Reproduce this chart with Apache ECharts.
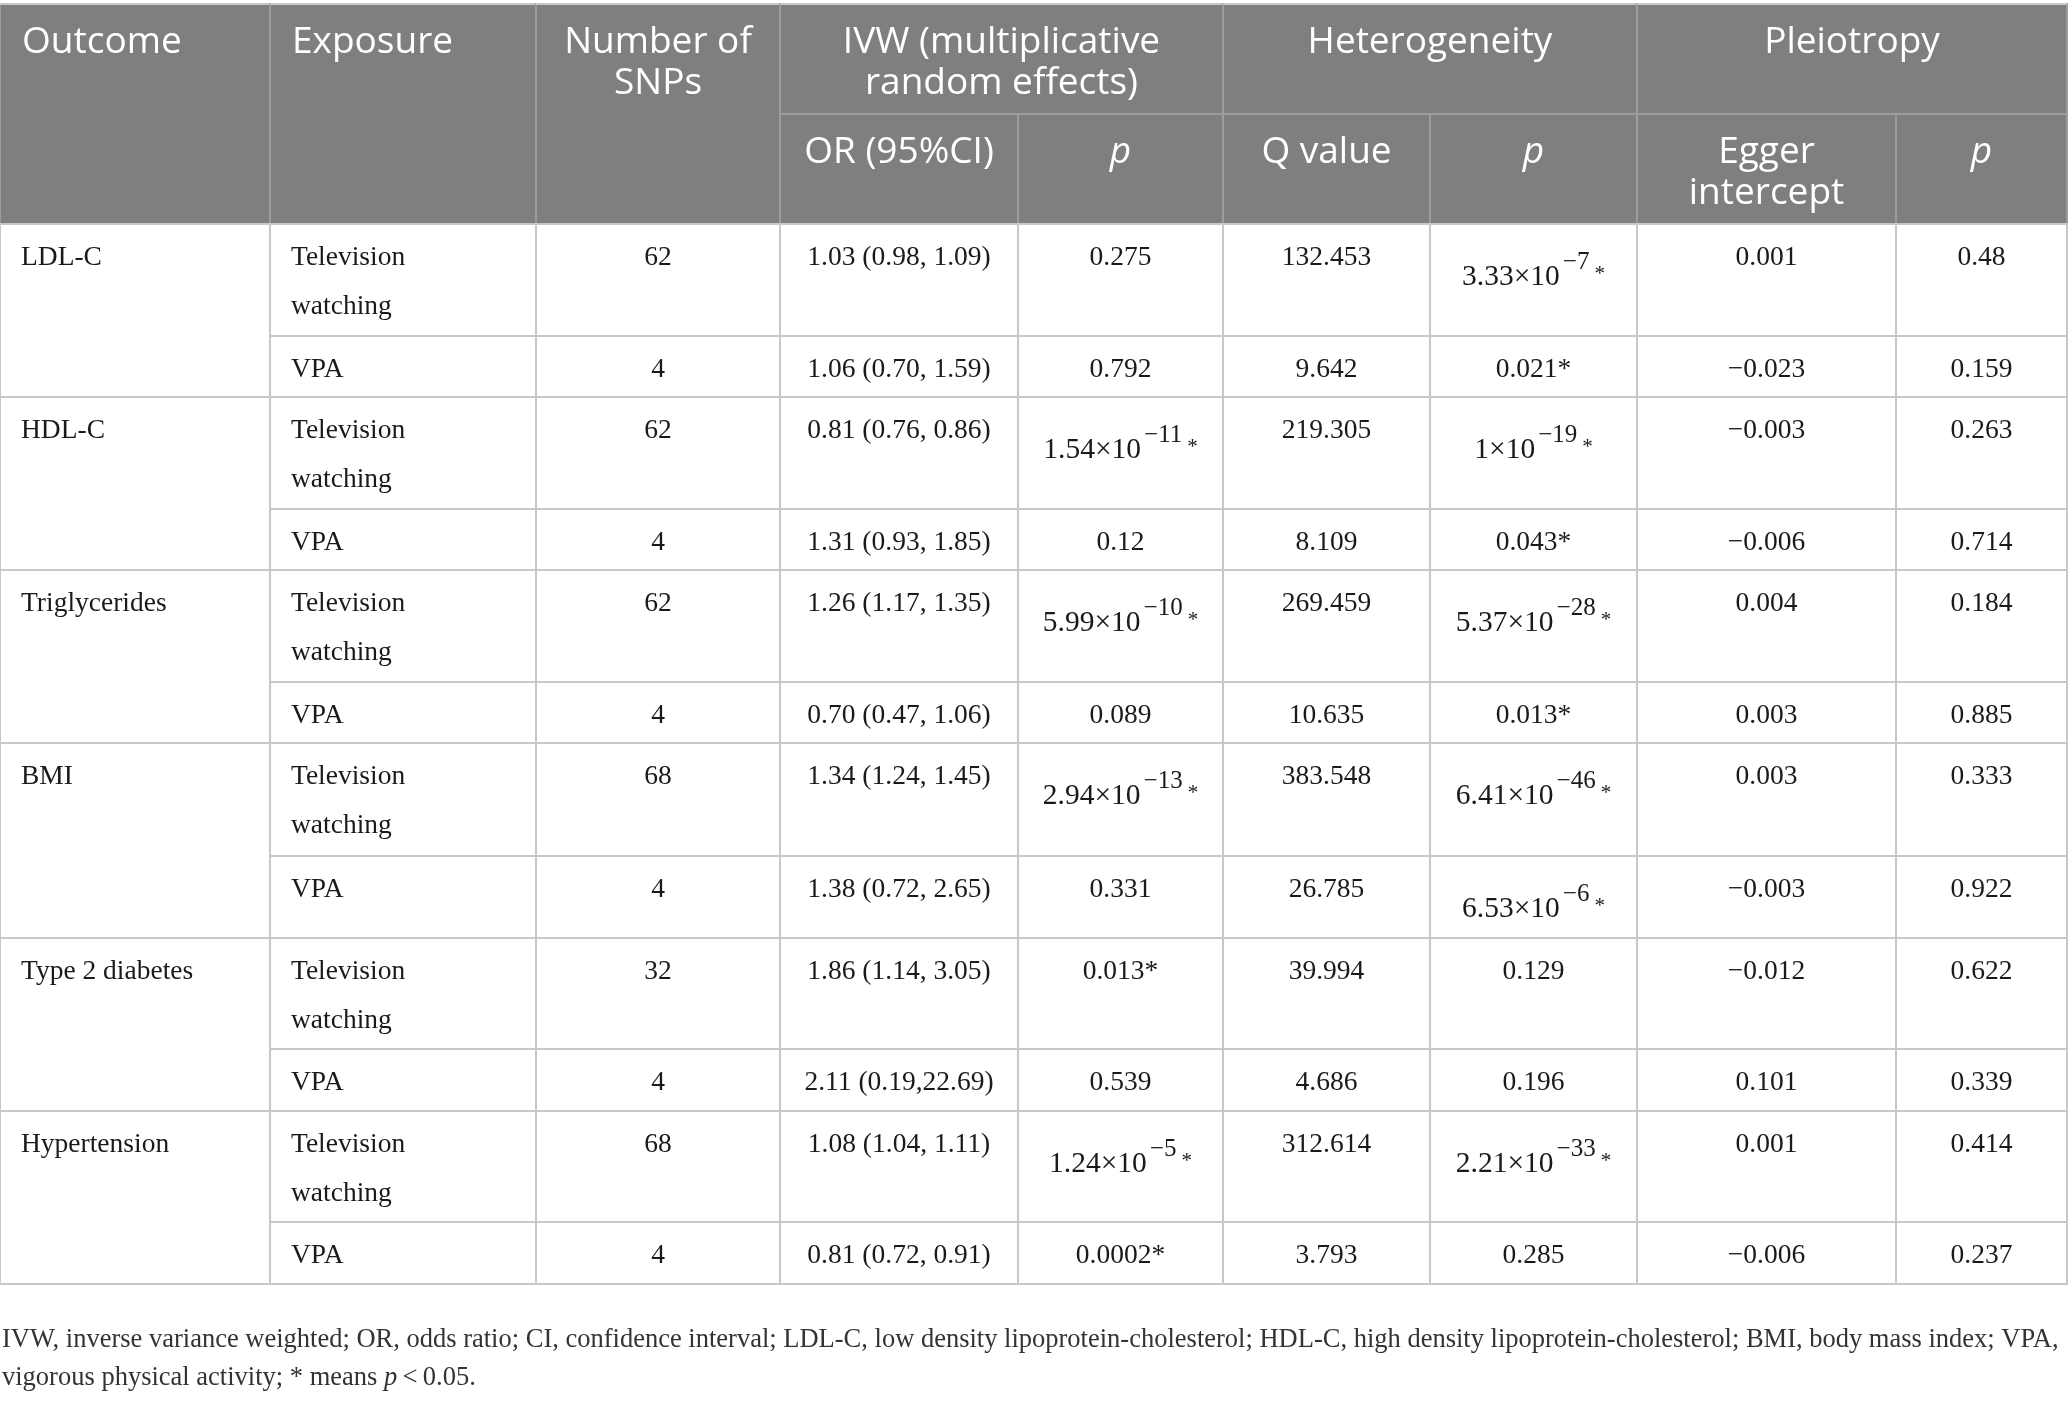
<!DOCTYPE html>
<html>
<head>
<meta charset="utf-8">
<title>Mendelian randomization results</title>
<script src="https://cdn.jsdelivr.net/npm/echarts@6/dist/echarts.min.js"></script>
<style>
  html, body { margin: 0; padding: 0; background: #fff; }
  #main { width: 2068px; height: 1401px; }
</style>
</head>
<body>
<div id="main"></div>
<script>
'use strict';

// table contents
const outcomes = ['LDL-C', 'HDL-C', 'Triglycerides', 'BMI', 'Type 2 diabetes', 'Hypertension'];
const exposures = ['Television\nwatching', 'VPA'];
const snpCounts = ['62', '4', '62', '4', '62', '4', '68', '4', '32', '4', '68', '4'];
const orCI = [
  '1.03 (0.98, 1.09)', '1.06 (0.70, 1.59)',
  '0.81 (0.76, 0.86)', '1.31 (0.93, 1.85)',
  '1.26 (1.17, 1.35)', '0.70 (0.47, 1.06)',
  '1.34 (1.24, 1.45)', '1.38 (0.72, 2.65)',
  '1.86 (1.14, 3.05)', '2.11 (0.19,22.69)',
  '1.08 (1.04, 1.11)', '0.81 (0.72, 0.91)'
];
const pIvw = ['0.275', '0.792', '1.54×10^−11*', '0.12', '5.99×10^−10*', '0.089',
  '2.94×10^−13*', '0.331', '0.013*', '0.539', '1.24×10^−5*', '0.0002*'];
const qValues = ['132.453', '9.642', '219.305', '8.109', '269.459', '10.635',
  '383.548', '26.785', '39.994', '4.686', '312.614', '3.793'];
const pHet = ['3.33×10^−7*', '0.021*', '1×10^−19*', '0.043*', '5.37×10^−28*', '0.013*',
  '6.41×10^−46*', '6.53×10^−6*', '0.129', '0.196', '2.21×10^−33*', '0.285'];
const eggerIntercepts = ['0.001', '−0.023', '−0.003', '−0.006', '0.004', '0.003',
  '0.003', '−0.003', '−0.012', '0.101', '0.001', '−0.006'];
const pPleio = ['0.48', '0.159', '0.263', '0.714', '0.184', '0.885',
  '0.333', '0.922', '0.622', '0.339', '0.414', '0.237'];

const headerTop = ['Outcome', 'Exposure', 'Number of\nSNPs', 'IVW (multiplicative\nrandom effects)', 'Heterogeneity', 'Pleiotropy'];
const headerSub = ['OR (95%CI)', 'p', 'Q value', 'p', 'Egger\nintercept', 'p'];

const footLine1 = 'IVW, inverse variance weighted; OR, odds ratio; CI, confidence interval; LDL-C, low density lipoprotein-cholesterol; HDL-C, high density lipoprotein-cholesterol; BMI, body mass index; VPA,';
const footLine2 = 'vigorous physical activity; * means ';

// layout
const W = 2068, H = 1401;
const colEdges = [0, 270, 536, 780, 1018, 1223, 1430, 1637, 1896, 2067];
const rowEdges = [224, 336, 397, 509, 570, 682, 743, 856, 938, 1049, 1111, 1222, 1284];
const headTop = 4, headMid = 114, headBottom = 224;

const SERIF = '"Liberation Serif", "Times New Roman", serif';
const SANS = '"Open Sans", "Noto Sans", sans-serif';
const INK = '#1a1a1a';
const GRID = '#c8c8c8';
const HEAD_BG = '#7f807e';
const HEAD_LINE = '#9d9e9c';

// header cells: columns c0..c1, rows y0..y1
const headerCells = [
  { c0: 0, c1: 1, y0: headTop, y1: headBottom, text: headerTop[0], align: 'left' },
  { c0: 1, c1: 2, y0: headTop, y1: headBottom, text: headerTop[1], align: 'left' },
  { c0: 2, c1: 3, y0: headTop, y1: headBottom, text: headerTop[2], align: 'center' },
  { c0: 3, c1: 5, y0: headTop, y1: headMid, text: headerTop[3], align: 'center' },
  { c0: 5, c1: 7, y0: headTop, y1: headMid, text: headerTop[4], align: 'center' },
  { c0: 7, c1: 9, y0: headTop, y1: headMid, text: headerTop[5], align: 'center' }
];
headerSub.forEach((t, i) => {
  headerCells.push({ c0: 3 + i, c1: 4 + i, y0: headMid, y1: headBottom, text: t, align: 'center', italic: t === 'p' });
});

// body cells
const bodyCells = [];
outcomes.forEach((o, i) => {
  bodyCells.push({ c: 0, r0: 2 * i, r1: 2 * i + 2, text: o, align: 'left' });
});
const bodyColumns = [null, null, snpCounts, orCI, pIvw, qValues, pHet, eggerIntercepts, pPleio];
for (let r = 0; r < snpCounts.length; r++) {
  bodyCells.push({ c: 1, r0: r, r1: r + 1, text: exposures[r % 2], align: 'left' });
  for (let c = 2; c < bodyColumns.length; c++) {
    bodyCells.push({ c: c, r0: r, r1: r + 1, text: bodyColumns[c][r], align: 'center' });
  }
}

const sciRich = {
  m: { fontFamily: SERIF, fontSize: 29.5, fill: INK, verticalAlign: 'middle' },
  e: { fontFamily: SERIF, fontSize: 25, fill: INK, verticalAlign: 'middle', padding: [0, 0, 30, 3] },
  s: { fontFamily: SERIF, fontSize: 21, fill: INK, verticalAlign: 'middle', padding: [0, 0, 6, 5] }
};

function headerItem(params, api) {
  const cell = headerCells[params.dataIndex];
  const a = api.coord([api.value(0), api.value(1)]);
  const b = api.coord([api.value(2), api.value(3)]);
  const children = [{
    type: 'rect',
    shape: { x: a[0], y: a[1], width: b[0] - a[0], height: b[1] - a[1] },
    style: { fill: HEAD_BG, stroke: HEAD_LINE, lineWidth: 2 }
  }];
  if (cell.y0 === headTop) {
    children.push({
      type: 'line',
      shape: { x1: a[0], y1: a[1], x2: b[0], y2: a[1] },
      style: { stroke: GRID, lineWidth: 2 }
    });
  }
  children.push({
    type: 'text',
    x: cell.align === 'left' ? a[0] + 22 : (a[0] + b[0]) / 2,
    y: a[1] + 18,
    style: {
      text: cell.text,
      fontFamily: SANS,
      fontSize: 37,
      fontStyle: cell.italic ? 'italic' : 'normal',
      lineHeight: 41,
      fill: '#ffffff',
      align: cell.align,
      verticalAlign: 'top'
    }
  });
  return { type: 'group', children: children };
}

function bodyItem(params, api) {
  const cell = bodyCells[params.dataIndex];
  const a = api.coord([api.value(0), api.value(1)]);
  const b = api.coord([api.value(2), api.value(3)]);
  const rect = {
    type: 'rect',
    shape: { x: a[0], y: a[1], width: b[0] - a[0], height: b[1] - a[1] },
    style: { fill: null, stroke: GRID, lineWidth: 2 }
  };
  const tx = cell.align === 'left' ? a[0] + 21 : (a[0] + b[0]) / 2;
  // values like 3.33×10^−7* get a raised exponent and a small star
  const sci = cell.text.match(/^(.+)×10\^(.+?)(\*?)$/);
  let label;
  if (sci) {
    label = {
      type: 'text', x: tx, y: a[1] + 53,
      style: {
        text: '{m|' + sci[1] + '×10}{e|' + sci[2] + '}' + (sci[3] ? '{s|*}' : ''),
        rich: sciRich,
        align: 'center',
        verticalAlign: 'middle'
      }
    };
  } else {
    label = {
      type: 'text', x: tx, y: a[1] + 9.5,
      style: {
        text: cell.text,
        fontFamily: SERIF,
        fontSize: 27.5,
        lineHeight: 49,
        fill: INK,
        align: cell.align,
        verticalAlign: 'top'
      }
    };
  }
  return { type: 'group', children: [rect, label] };
}

const chart = echarts.init(document.getElementById('main'));
chart.setOption({
  animation: false,
  backgroundColor: '#ffffff',
  grid: { left: 0, right: 0, top: 0, bottom: 0 },
  xAxis: { type: 'value', min: 0, max: W, show: false },
  yAxis: { type: 'value', min: 0, max: H, inverse: true, show: false },
  graphic: [{
    type: 'text',
    left: 2,
    top: 1321,
    style: {
      text: footLine1 + '\n' + footLine2 + '{i|p}\u2009<\u20090.05.',
      fontFamily: SERIF,
      fontSize: 26.5,
      lineHeight: 38,
      fill: '#333333',
      rich: {
        i: { fontFamily: SERIF, fontSize: 26.5, fontStyle: 'italic', fill: '#333333' }
      }
    }
  }],
  series: [
    {
      type: 'custom',
      name: 'header',
      renderItem: headerItem,
      data: headerCells.map(h => [colEdges[h.c0], h.y0, colEdges[h.c1], h.y1])
    },
    {
      type: 'custom',
      name: 'body',
      renderItem: bodyItem,
      data: bodyCells.map(b => [colEdges[b.c], rowEdges[b.r0], colEdges[b.c + 1], rowEdges[b.r1]])
    }
  ]
});
</script>
</body>
</html>
